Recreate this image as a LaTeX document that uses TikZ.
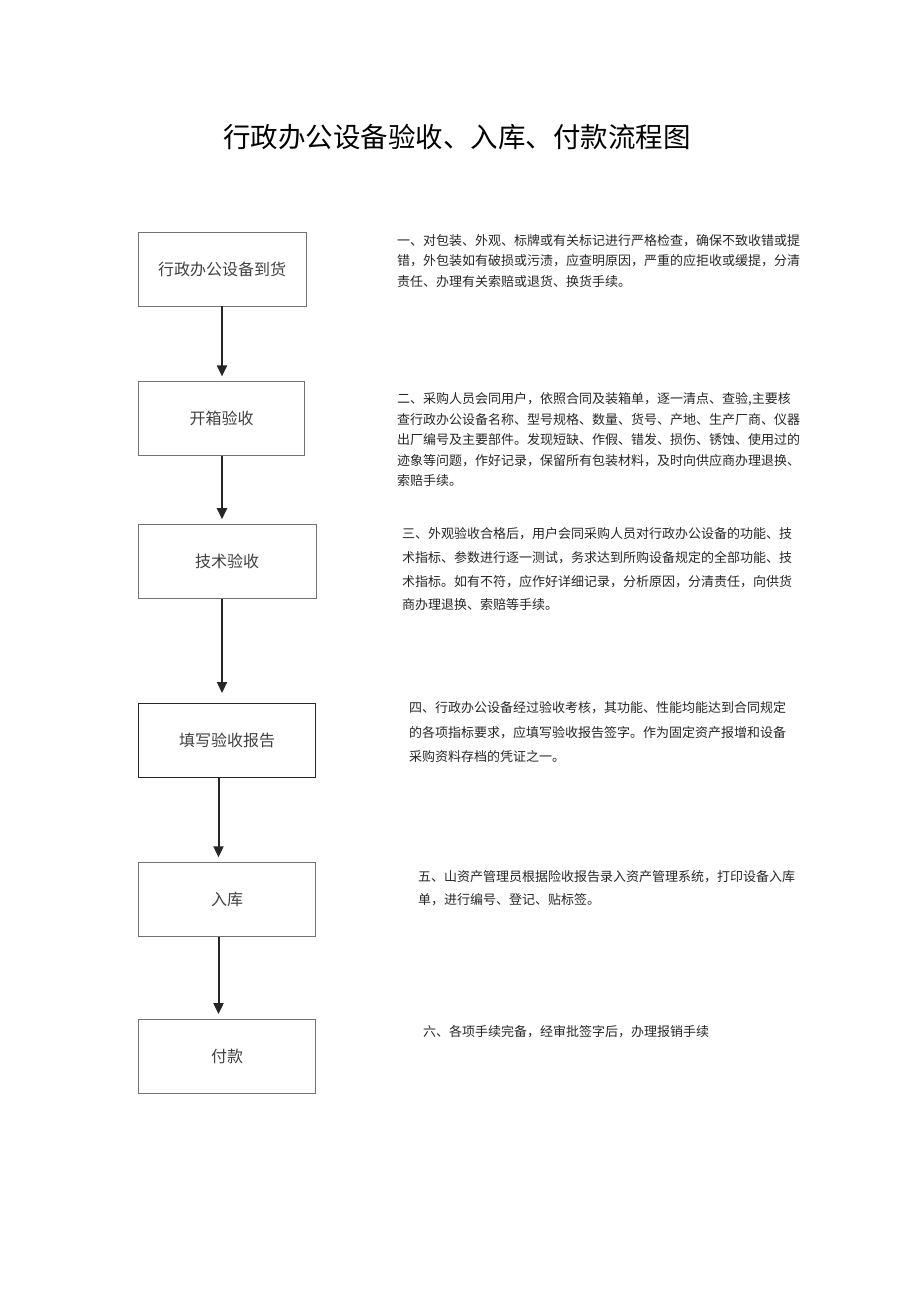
\documentclass[tikz,border=0pt]{standalone}
\usepackage{fontspec}
\setmainfont{Noto Sans CJK SC}
\usetikzlibrary{arrows.meta,positioning}

\begin{document}
\begin{tikzpicture}[
    stepbox/.style={rectangle, draw=black!55, line width=0.8pt, text=black!75,
        font=\fontsize{16pt}{18pt}\selectfont, minimum width=177pt, minimum height=74pt, inner sep=0pt},
    note/.style={anchor=north west, align=left, inner sep=0pt, text=black!85},
    arrow/.style={-{Triangle[width=10pt,length=11pt]}, line width=2pt, black!85}
]
\useasboundingbox (0,0) rectangle (920pt,-1301pt);

% title
\node[font=\fontsize{27.5pt}{30pt}\selectfont] (title) at (457pt,-137pt) {行政办公设备验收、入库、付款流程图};

% flow boxes
\node[stepbox, minimum width=168pt] (arrive) at (222pt,-269pt) {行政办公设备到货};
\node[stepbox, minimum width=166pt, below=75pt of arrive, xshift=-0.5pt] (unpack) {开箱验收};
\node[stepbox, minimum width=178pt, below=68pt of unpack, xshift=5.5pt] (tech) {技术验收};
\node[stepbox, draw=black!85, line width=1.3pt, below=104pt of tech] (report) {填写验收报告};
\node[stepbox, below=84pt of report] (store) {入库};
\node[stepbox, below=82pt of store] (pay) {付款};

\draw[arrow] (arrive.south) -- ([yshift=5pt]unpack.north -| arrive.south);
\draw[arrow] (arrive.south |- unpack.south) -- ([yshift=5pt]tech.north -| arrive.south);
\draw[arrow] (arrive.south |- tech.south) -- ([yshift=10pt]report.north -| arrive.south);
\draw[arrow] ([xshift=-8.5pt]report.south) -- ([xshift=-8.5pt,yshift=5pt]store.north);
\draw[arrow] ([xshift=-8.5pt]store.south) -- ([xshift=-8.5pt,yshift=5pt]pay.north);

% notes
\node[note, font=\fontsize{13pt}{20.5pt}\selectfont] (note1) at (397pt,-234pt)
    {一、对包装、外观、标牌或有关标记进行严格检查，确保不致收错或提\\
     错，外包装如有破损或污渍，应查明原因，严重的应拒收或缓提，分清\\
     责任、办理有关索赔或退货、换货手续。};
\node[note, font=\fontsize{13pt}{20.5pt}\selectfont] (note2) at (397pt,-392.5pt)
    {二、采购人员会同用户，依照合同及装箱单，逐一清点、查验,主要核\\
     查行政办公设备名称、型号规格、数量、货号、产地、生产厂商、仪器\\
     出厂编号及主要部件。发现短缺、作假、错发、损伤、锈蚀、使用过的\\
     迹象等问题，作好记录，保留所有包装材料，及时向供应商办理退换、\\
     索赔手续。};
\node[note, font=\fontsize{13pt}{23.7pt}\selectfont] (note3) at (402pt,-527.5pt)
    {三、外观验收合格后，用户会同采购人员对行政办公设备的功能、技\\
     术指标、参数进行逐一测试，务求达到所购设备规定的全部功能、技\\
     术指标。如有不符，应作好详细记录，分析原因，分清责任，向供货\\
     商办理退换、索赔等手续。};
\node[note, font=\fontsize{13pt}{24.5pt}\selectfont] (note4) at (409pt,-701.5pt)
    {四、行政办公设备经过验收考核，其功能、性能均能达到合同规定\\
     的各项指标要求，应填写验收报告签字。作为固定资产报增和设备\\
     采购资料存档的凭证之一。};
\node[note, font=\fontsize{13pt}{23pt}\selectfont] (note5) at (418pt,-870.5pt)
    {五、山资产管理员根据险收报告录入资产管理系统，打印设备入库\\
     单，进行编号、登记、贴标签。};
\node[note, font=\fontsize{13pt}{20pt}\selectfont] (note6) at (423pt,-1025.5pt)
    {六、各项手续完备，经审批签字后，办理报销手续};
\end{tikzpicture}
\end{document}
